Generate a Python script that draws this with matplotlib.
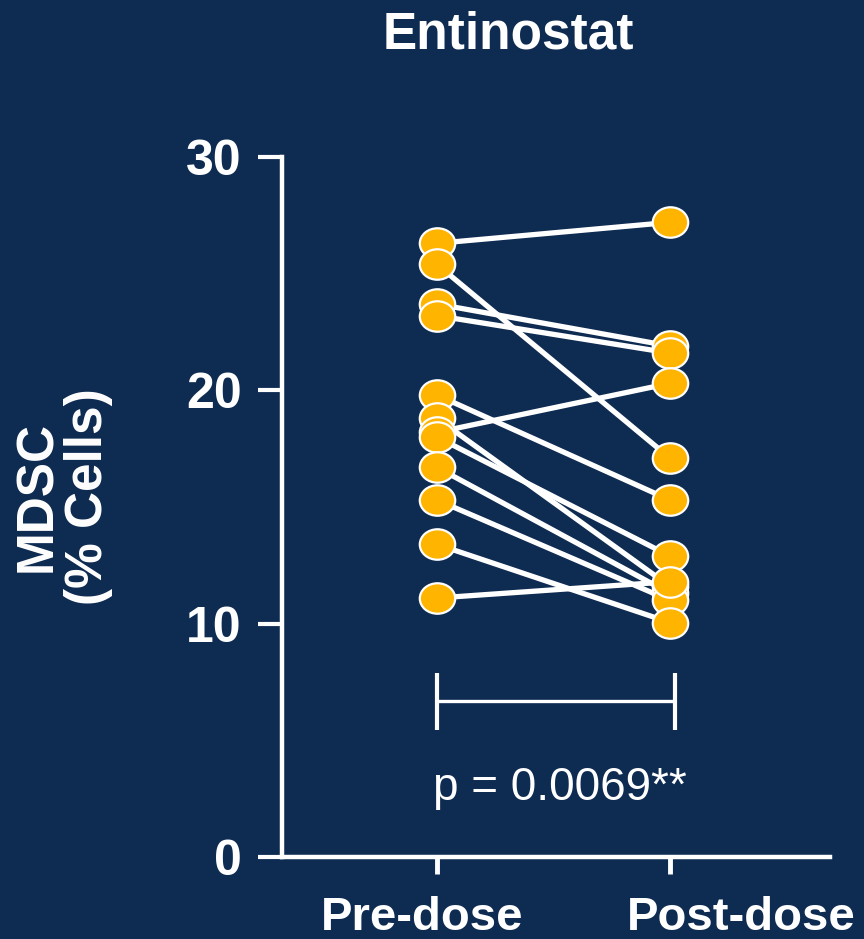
import numpy as np
import matplotlib.pyplot as plt
from matplotlib.path import Path
from matplotlib.transforms import Affine2D

# ============================
# Données (lecture du graphique)
# ============================
groups = ["Pre-dose", "Post-dose"]
pre_dose = [26.3, 25.4, 23.7, 23.2, 19.8, 18.8, 18.2, 18.0, 16.7, 15.3, 13.4, 11.1]
post_dose = [27.2, 17.1, 21.9, 21.6, 15.3, 11.6, 20.3, 12.9, 11.3, 11.0, 10.05, 11.8]
y_ticks = [0, 10, 20, 30]
p_label = "p = 0.0069**"

BG = "#0E2B52"
ORANGE = "#FFB400"
WHITE = "white"

plt.rcParams["font.family"] = ["Liberation Sans", "DejaVu Sans"]

fig = plt.figure(figsize=(8.64, 9.39), dpi=100, facecolor=BG)
ax = fig.add_axes([0.3264, 0.0873, 0.6342, 0.7455], facecolor=BG)

# marqueur elliptique
ellipse = Path.unit_circle().transformed(Affine2D().scale(1.0, 0.86))

x = np.arange(len(groups))
for a, b in zip(pre_dose, post_dose):
    ax.plot(x, [a, b], color=WHITE, lw=3.8, zorder=2, solid_capstyle="butt")
for a, b in zip(pre_dose, post_dose):
    ax.plot(x, [a, b], ls="none", marker=ellipse, ms=25.5, mfc=ORANGE,
            mec=WHITE, mew=1.6, zorder=3)

ax.set_xlim(-0.665, 1.687)
ax.set_ylim(0, 30)

for side in ["top", "right"]:
    ax.spines[side].set_visible(False)
for side in ["left", "bottom"]:
    ax.spines[side].set_color(WHITE)
    ax.spines[side].set_linewidth(3.2)
ax.spines["left"].set_bounds(0, 30)

ax.set_yticks(y_ticks)
ax.set_xticks(x)
ax.set_xticklabels([])
ax.tick_params(axis="y", colors=WHITE, length=17, width=3, labelsize=36, pad=12)
ax.tick_params(axis="x", colors=WHITE, length=12, width=3.5)
for lab in ax.get_yticklabels():
    lab.set_fontweight("bold")

# étiquettes de groupe (décalées comme dans l'original)
label_x = [-0.064, 1.305]
for lx, g in zip(label_x, groups):
    ax.text(lx, -0.104, g, transform=ax.get_xaxis_transform(), color=WHITE,
            fontsize=34, fontweight="bold", ha="center", va="baseline")

fig.text(63 / 864, 1 - 497 / 939, "MDSC\n(% Cells)", color=WHITE, fontsize=37,
         fontweight="bold", rotation=90, ha="center", va="center",
         linespacing=1.05, multialignment="center")
fig.text(508 / 864, 1 - 35 / 939, "Entinostat", color=WHITE, fontsize=37,
         fontweight="bold", ha="center", va="center")

# crochet de comparaison + p-value
ax.plot([0, 1.02], [6.67, 6.67], color=WHITE, lw=2.4, solid_capstyle="butt")
ax.plot([0, 0], [5.44, 7.89], color=WHITE, lw=3, solid_capstyle="butt")
ax.plot([1.02, 1.02], [5.44, 7.89], color=WHITE, lw=3, solid_capstyle="butt")
ax.text(0.528, 2.44, p_label, color=WHITE, fontsize=33, ha="center",
        va="baseline")

fig.savefig("out.png", dpi=100, facecolor=BG)
